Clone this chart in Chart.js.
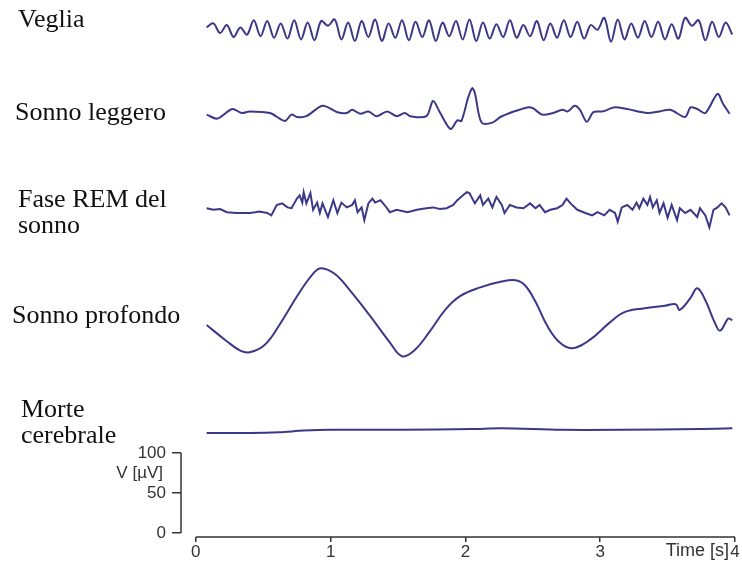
<!DOCTYPE html>
<html>
<head>
<meta charset="utf-8">
<script src="https://cdn.jsdelivr.net/npm/chart.js@4.4.1/dist/chart.umd.min.js"></script>
<style>
  html, body { margin: 0; padding: 0; background: #fff; }
  #wrap { width: 742px; height: 564px; }
</style>
</head>
<body>
<div id="wrap"><canvas id="eegChart"></canvas></div>
<script>
// Trace names (left column)
const traceNames = [['Veglia'], ['Sonno leggero'], ['Fase REM del', 'sonno'], ['Sonno profondo'], ['Morte', 'cerebrale']];

// Axis ticks
const timeTicks = [0, 1, 2, 3, 4];
const voltTicks = [0, 50, 100];

// Veglia (awake, alpha waves) - time [s], voltage [uV] around the trace baseline
const vegliaTime = [0.08, 0.13, 0.18, 0.23, 0.28, 0.33, 0.38, 0.43, 0.48, 0.53, 0.58, 0.63, 0.68, 0.73, 0.78, 0.83, 0.88, 0.93, 0.98, 1.03,
  1.08, 1.13, 1.18, 1.23, 1.28, 1.33, 1.38, 1.43, 1.48, 1.53, 1.58, 1.63, 1.68, 1.73, 1.78, 1.83, 1.88, 1.93, 1.98, 2.03,
  2.08, 2.13, 2.18, 2.23, 2.28, 2.33, 2.38, 2.43, 2.48, 2.53, 2.58, 2.63, 2.68, 2.73, 2.78, 2.83, 2.88, 2.93, 2.98, 3.03,
  3.08, 3.13, 3.18, 3.23, 3.28, 3.33, 3.38, 3.43, 3.48, 3.53, 3.58, 3.63, 3.68, 3.73, 3.78, 3.83, 3.88, 3.93, 3.98];
const vegliaUV = [3, 8, -4, 6, -9, 3, -6, 12, -8, 11, -10, 8, -11, 12, -12, 9, -13, 11, 5, 13,
  -12, 9, -14, 11, -9, 13, -14, 8, -10, 12, -13, 10, -9, 12, -14, 9, -8, 11, -12, 13,
  -14, 9, -11, 7, -9, 12, -10, 6, -8, 11, -13, 8, -10, 12, -9, 10, -11, 6, 0, 15,
  -15, 13, -12, 8, -10, 11, -9, 10, -12, 7, -11, 15, 5, 12, -13, 10, -9, 9, -6];

// Sonno leggero (light sleep)
const leggeroTime = [0.08, 0.16, 0.27, 0.34, 0.40, 0.55, 0.66, 0.71, 0.75, 0.82, 0.94, 1.05, 1.12, 1.16, 1.22, 1.28, 1.34, 1.42, 1.49, 1.55,
  1.59, 1.71, 1.76, 1.81, 1.89, 1.94, 1.97, 2.02, 2.05, 2.07, 2.12, 2.20, 2.26, 2.33, 2.40, 2.46, 2.50, 2.57, 2.65, 2.72,
  2.76, 2.81, 2.85, 2.90, 2.95, 3.02, 3.10, 3.20, 3.35, 3.44, 3.52, 3.63, 3.67, 3.72, 3.78, 3.87, 3.91, 3.96];
const leggeroUV = [-2, -7, 5, 0, 2, 0, -10, -2, -5, -4, 9, 1, 0, 4, -1, 2, -4, 2, -4, 0,
  -4, -4, 15, 1, -20, -9, -10, 19, 31, 25, -12, -12, -5, 0, 4, 7, 6, -2, 0, 4,
  2, 9, 4, -11, 1, 2, 7, 5, 0, 2, 4, -5, 7, 5, 0, 24, 12, -1];

// Fase REM del sonno
const remTime = [0.08, 0.13, 0.18, 0.23, 0.30, 0.35, 0.40, 0.44, 0.47, 0.53, 0.56, 0.60, 0.64, 0.68, 0.71, 0.75, 0.77, 0.79, 0.80, 0.82,
  0.85, 0.87, 0.90, 0.92, 0.94, 0.98, 1.02, 1.05, 1.08, 1.12, 1.16, 1.18, 1.20, 1.23, 1.25, 1.28, 1.31, 1.33, 1.37, 1.40,
  1.44, 1.49, 1.57, 1.64, 1.71, 1.76, 1.81, 1.86, 1.91, 1.94, 1.98, 2.01, 2.03, 2.07, 2.11, 2.13, 2.17, 2.20, 2.23, 2.27,
  2.29, 2.33, 2.38, 2.43, 2.48, 2.52, 2.55, 2.59, 2.63, 2.68, 2.72, 2.75, 2.78, 2.83, 2.89, 2.94, 2.98, 3.03, 3.07, 3.11,
  3.13, 3.16, 3.20, 3.24, 3.27, 3.29, 3.32, 3.35, 3.37, 3.39, 3.42, 3.44, 3.47, 3.50, 3.53, 3.57, 3.59, 3.63, 3.67, 3.72,
  3.74, 3.78, 3.81, 3.84, 3.87, 3.90, 3.93, 3.96];
const remUV = [0, -2, -1, -5, -6, -6, -6, -5, -4, -6, -9, 4, 6, 1, 0, 12, 16, 7, 20, 6,
  19, -2, 7, -6, 6, -11, 10, -6, 7, 1, 4, 10, -5, 1, -15, 6, 12, 7, 10, 4,
  -5, -2, -5, -2, 0, 1, -1, 0, 4, 10, 16, 20, 19, 6, 16, 4, 12, 1, 14, 4,
  -6, 4, 1, 0, 6, 0, 4, -5, -2, 0, 4, 12, 6, -2, -6, -9, -5, -9, -2, -6,
  -17, 1, 4, -2, 7, 0, 12, 4, 14, 1, 10, -6, 6, -12, 4, -15, 0, -6, -2, -11,
  0, -9, -24, -2, 1, 6, 1, -9];

// Sonno profondo (deep sleep, delta waves)
const profondoTime = [0.08, 0.22, 0.33, 0.40, 0.51, 0.62, 0.77, 0.88, 0.93, 1.03, 1.14, 1.29, 1.44, 1.53, 1.62, 1.74, 1.85, 1.96, 2.11, 2.26,
  2.37, 2.44, 2.52, 2.61, 2.70, 2.79, 2.92, 3.07, 3.18, 3.33, 3.48, 3.56, 3.59, 3.67, 3.72, 3.78, 3.85, 3.89, 3.95, 3.98];
const profondoUV = [-16, -35, -48, -50, -41, -16, 25, 50, 55, 48, 28, -4, -38, -55, -48, -23, 3, 20, 31, 38,
  40, 34, 13, -18, -38, -45, -35, -13, 0, 5, 8, 10, 3, 18, 30, 15, -13, -23, -8, -10];

// Morte cerebrale (flat line)
const morteTime = [0.08, 0.40, 0.62, 0.80, 1.00, 1.52, 2.05, 2.27, 2.71, 3.15, 3.74, 3.98];
const morteUV = [-4, -4, -3, -1, 0, 0, 1, 2, 0, 0, 1, 2];

// vertical baseline of each trace on the shared voltage axis
const baselines = [629, 525, 406, 276, 129];
const labelPos = [[18, 20], [15, 113], [18, 200], [12, 316], [21, 410]];

const lineColor = '#3b3888';
const axisColor = '#333';
const sansFont = "'Liberation Sans', Arial, sans-serif";

function toPoints(times, values, base) {
  return times.map((t, i) => ({ x: t, y: values[i] + base }));
}

const series = [
  [vegliaTime, vegliaUV, 0.35],
  [leggeroTime, leggeroUV, 0.3],
  [remTime, remUV, 0],
  [profondoTime, profondoUV, 0.4],
  [morteTime, morteUV, 0.3]
];

const datasets = series.map((s, i) => ({
  label: traceNames[i].join(' '),
  data: toPoints(s[0], s[1], baselines[i]),
  borderColor: lineColor,
  borderWidth: 2,
  pointRadius: 0,
  tension: s[2],
  fill: false
}));

// axis lines, axis titles and trace names
const decorPlugin = {
  id: 'decor',
  afterDraw(chart) {
    const ctx = chart.ctx;
    const xs = chart.scales.x;
    const ys = chart.scales.y;
    const area = chart.chartArea;
    ctx.save();
    ctx.strokeStyle = axisColor;
    ctx.lineWidth = 1.5;
    ctx.beginPath();
    ctx.moveTo(area.left, ys.getPixelForValue(0));
    ctx.lineTo(area.left, ys.getPixelForValue(100));
    ctx.moveTo(xs.getPixelForValue(0), area.bottom);
    ctx.lineTo(xs.getPixelForValue(4), area.bottom);
    ctx.stroke();

    ctx.fillStyle = axisColor;
    ctx.font = '17px ' + sansFont;
    ctx.textAlign = 'right';
    ctx.textBaseline = 'middle';
    ctx.fillText('V [\u00b5V]', 163, ys.getPixelForValue(75));
    ctx.font = '18px ' + sansFont;
    ctx.fillText('Time [s]', xs.getPixelForValue(4) - 6, area.bottom + 14);

    ctx.fillStyle = '#111';
    ctx.font = "26px 'Liberation Serif', 'Times New Roman', serif";
    ctx.textAlign = 'left';
    traceNames.forEach((lines, i) => {
      lines.forEach((txt, j) => {
        ctx.fillText(txt, labelPos[i][0], labelPos[i][1] + j * 26);
      });
    });
    ctx.restore();
  }
};

const ctx = document.getElementById('eegChart').getContext('2d');
new Chart(ctx, {
  type: 'line',
  data: { datasets },
  options: {
    responsive: true,
    maintainAspectRatio: false,
    animation: false,
    layout: { padding: { top: 5, right: 7, bottom: 0, left: 0 } },
    plugins: {
      legend: { display: false },
      tooltip: { enabled: false }
    },
    scales: {
      x: {
        type: 'linear',
        min: -0.11,
        max: 4,
        afterBuildTicks: axis => { axis.ticks = timeTicks.map(v => ({ value: v })); },
        afterFit: axis => { axis.height = 27; axis.paddingLeft = 0; axis.paddingRight = 0; },
        border: { display: false },
        grid: { drawOnChartArea: false, drawTicks: true, tickLength: 5, color: axisColor, lineWidth: 1.5 },
        ticks: { color: axisColor, padding: 0, maxRotation: 0, font: { family: sansFont, size: 17 } }
      },
      y: {
        type: 'linear',
        min: -5,
        max: 660,
        afterBuildTicks: axis => { axis.ticks = voltTicks.map(v => ({ value: v })); },
        afterFit: axis => { axis.width = 181; axis.paddingTop = 0; axis.paddingBottom = 0; },
        border: { display: false },
        grid: { drawOnChartArea: false, drawTicks: true, tickLength: 9, color: axisColor, lineWidth: 1.5 },
        ticks: { color: axisColor, padding: 6, font: { family: sansFont, size: 17 } }
      }
    }
  },
  plugins: [decorPlugin]
});
</script>
</body>
</html>
